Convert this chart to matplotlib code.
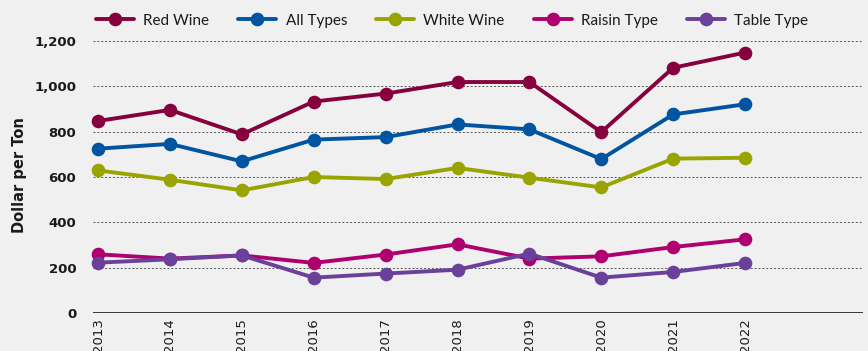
import matplotlib
matplotlib.use("Agg")
import matplotlib.pyplot as plt
from matplotlib import font_manager

years = [2013, 2014, 2015, 2016, 2017, 2018, 2019, 2020, 2021, 2022]
red_wine = [847, 896, 788, 933, 968, 1019, 1019, 798, 1082, 1149]
all_types = [725, 746, 669, 765, 776, 832, 810, 679, 876, 921]
white_wine = [629, 588, 541, 600, 591, 640, 597, 554, 681, 685]
raisin_type = [259, 240, 254, 221, 258, 303, 240, 250, 291, 325]
table_type = [222, 237, 254, 156, 174, 191, 262, 156, 181, 221]
y_ticks = [0, 200, 400, 600, 800, 1000, 1200]
y_tick_labels = ["0", "200", "400", "600", "800", "1,000", "1,200"]

series = [
    ("Red Wine", red_wine, "#87003E"),
    ("All Types", all_types, "#0054A0"),
    ("White Wine", white_wine, "#9AA400"),
    ("Raisin Type", raisin_type, "#AE006E"),
    ("Table Type", table_type, "#6A409A"),
]

bg = "#F0F0F0"
fig = plt.figure(figsize=(8.68, 3.51), dpi=100, facecolor=bg)
ax = fig.add_axes([93/868, 38/351, (863-93)/868, (313-41)/351], facecolor=bg)

for name, vals, col in series:
    ax.plot(years, vals, color=col, lw=2.8, marker="o", ms=8.8, label=name,
            solid_capstyle="round", clip_on=False, zorder=3)

ax.set_xlim(2012.93, 2023.64)
ax.set_ylim(0, 1200)
for v in y_ticks[1:]:
    ax.axhline(v, color="#555555", lw=0.7, ls=(0, (2.0, 2.0)), zorder=1)
ax.axhline(0, color="black", lw=1.8, zorder=2)

for s in ax.spines.values():
    s.set_visible(False)

ax.set_yticks(y_ticks)
ax.set_yticklabels(y_tick_labels, fontsize=9.5, fontweight="bold", color="#1a1a1a")
ax.tick_params(axis="y", length=0, pad=12)

narrow = "Liberation Sans Narrow"
fams = [f.name for f in font_manager.fontManager.ttflist]
xfont = narrow if narrow in fams else "DejaVu Sans"
ax.set_xticks(years)
ax.set_xticklabels([str(y) for y in years], rotation=90, fontsize=9.5,
                   family=xfont, color="#1a1a1a")
ax.tick_params(axis="x", length=0, pad=4)

fig.text(20/868, 0.5, "Dollar per Ton", rotation=90, fontsize=10.5,
         fontweight="bold", va="center", ha="center", color="#1a1a1a")

leg = fig.legend(loc="upper left", bbox_to_anchor=(82/868, 1.0), ncol=5,
                 frameon=False, prop={"family": "Lato", "size": 11},
                 handlelength=2.5, columnspacing=1.9, handletextpad=0.6,
                 labelcolor="#1a1a1a")

fig.savefig("out.png", dpi=100, facecolor=bg)
